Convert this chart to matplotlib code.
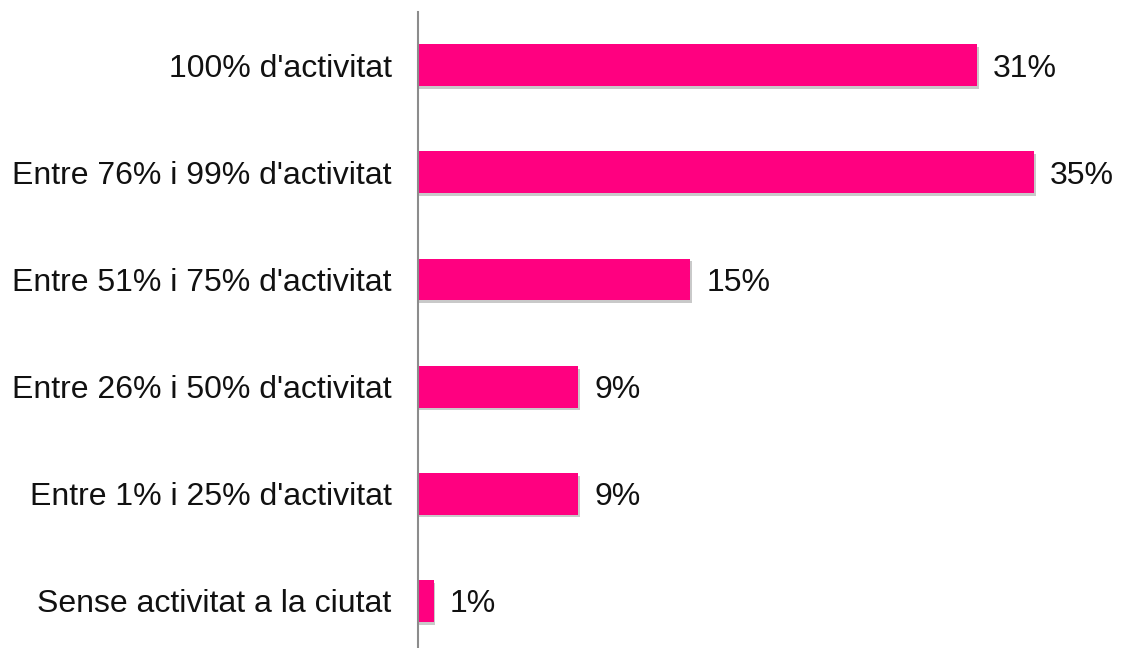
import matplotlib
matplotlib.use("Agg")
import matplotlib.pyplot as plt
import matplotlib.patheffects as pe

# data (top to bottom)
categories = [
    "100% d'activitat",
    "Entre 76% i 99% d'activitat",
    "Entre 51% i 75% d'activitat",
    "Entre 26% i 50% d'activitat",
    "Entre 1% i 25% d'activitat",
    "Sense activitat a la ciutat",
]
values = [31.4, 34.6, 15.3, 9.0, 9.0, 0.9]
value_labels = ["31%", "35%", "15%", "9%", "9%", "1%"]

plt.rcParams['font.family'] = ['Liberation Sans', 'DejaVu Sans']

fig = plt.figure(figsize=(11.22, 6.48), dpi=100)
ax = fig.add_axes([0.3725, -0.01, 0.608, 0.992])

ypos = list(range(len(categories)))
bars = ax.barh(ypos, values, height=0.39, color='#FF0080', zorder=2)
for b in bars:
    b.set_path_effects([pe.SimplePatchShadow(offset=(1, -2), shadow_rgbFace='#888888', alpha=0.45),
                        pe.Normal()])

for y, v, lab in zip(ypos, values, value_labels):
    ax.annotate(lab, (v, y), xytext=(11.5, 0), textcoords='offset points',
                ha='left', va='center_baseline', fontsize=23, color='#111111')

ax.set_yticks(ypos)
ax.set_yticklabels(categories, fontsize=23, color='#111111', va='center_baseline')
ax.tick_params(axis='y', length=0, pad=19)
ax.set_xticks([])
ax.set_xlim(0, 38.3)
ax.set_ylim(len(categories) - 0.5, -0.5)

for s in ['top', 'right', 'bottom']:
    ax.spines[s].set_visible(False)
ax.spines['left'].set_color('#8c8c8c')
ax.spines['left'].set_linewidth(1.5)

fig.savefig('out.png', dpi=100)
